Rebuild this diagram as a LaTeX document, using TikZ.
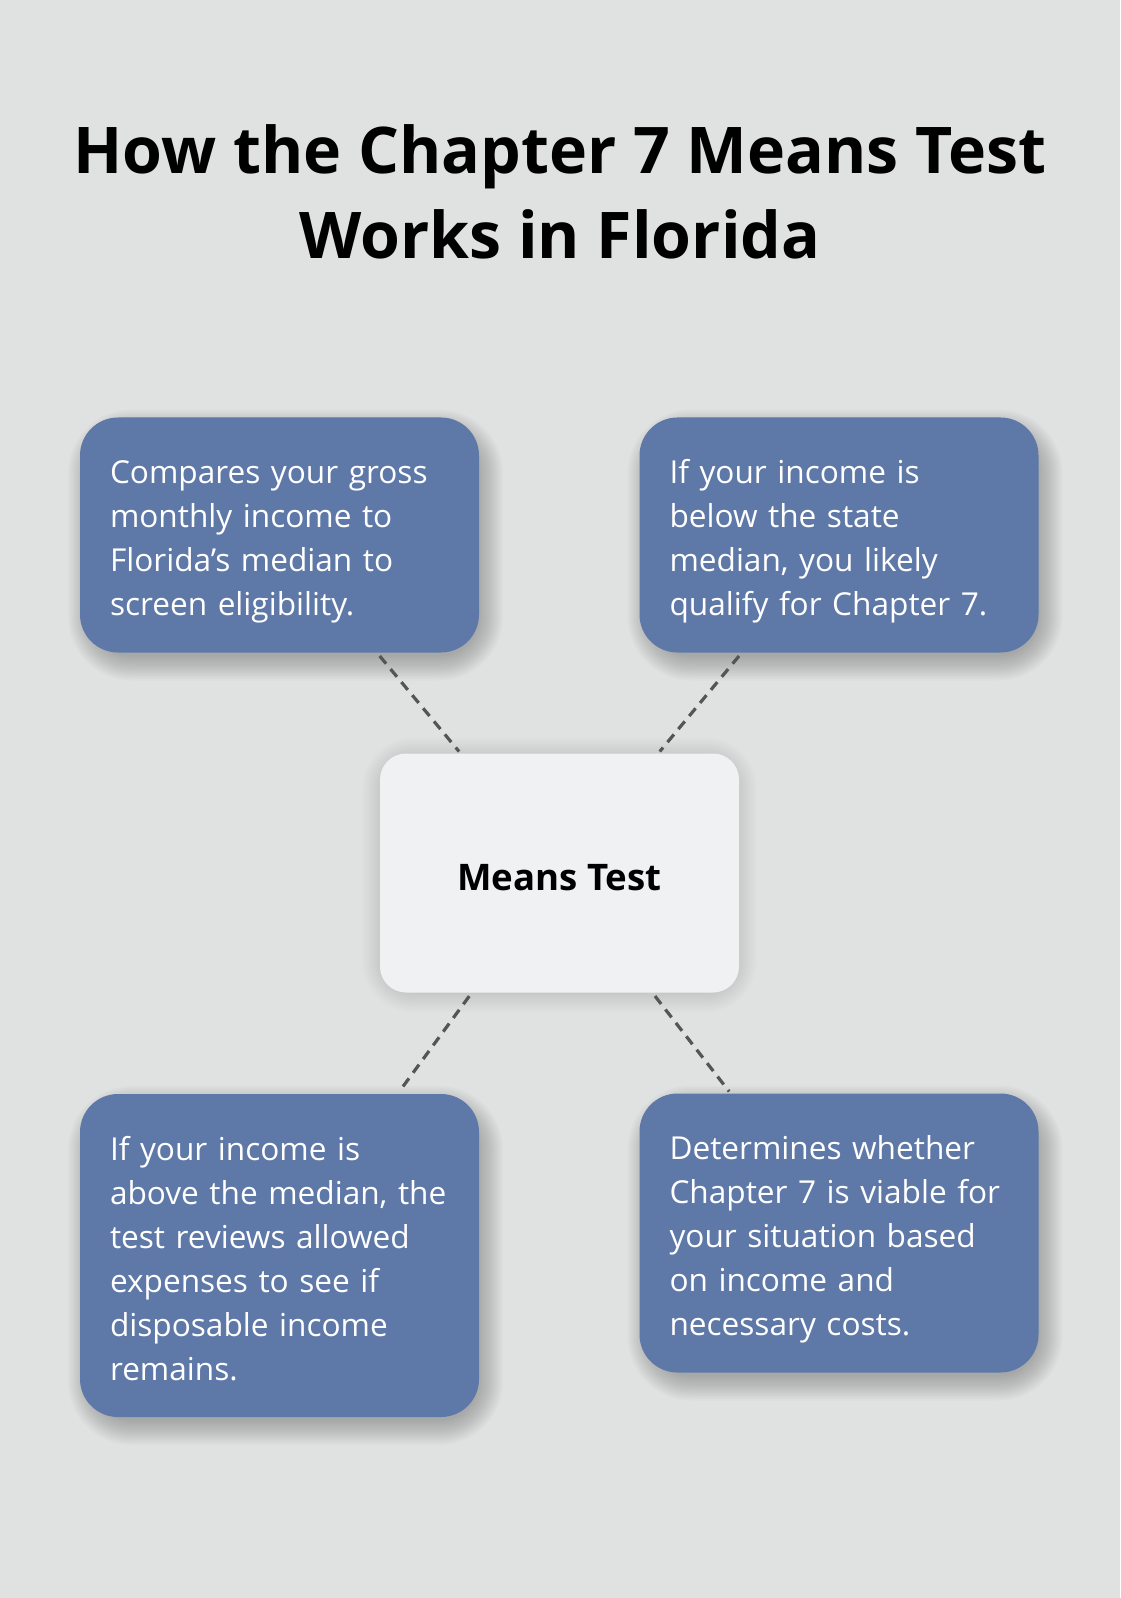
\documentclass[tikz,border=0pt]{standalone}
\usepackage{fontspec}
\setmainfont{Open Sans}
\usetikzlibrary{positioning,calc}
\definecolor{pagebg}{HTML}{E0E2E1}
\definecolor{cardblue}{HTML}{5E78A8}
\definecolor{corefill}{HTML}{F0F1F3}
\definecolor{linkgray}{HTML}{555555}
\tikzset{font=\fontsize{15.8}{22}\selectfont}
\pgfdeclarelayer{bg}
\pgfsetlayers{bg,main}

% card text with fixed top and bottom room
\newcommand{\cardbody}[1]{\rule{0pt}{19.5pt}#1\rule[-5pt]{0pt}{5pt}}
% soft shadow behind a node: #1 node, #2 corner radius (pt), #3 x shift, #4 y shift, #5 opacity
\newcommand{\softshadow}[5]{%
	\foreach \k in {1,...,16} {
		\pgfmathsetmacro\rad{#2+0.8*\k}
		\fill[black, fill opacity=#5, rounded corners=\rad pt]
			($(#1.south west)+(#3-\k*0.8pt+4pt, #4-\k*0.8pt+4pt)$) rectangle
			($(#1.north east)+(#3+\k*0.8pt-4pt, #4+\k*0.8pt-4pt)$);
	}}

\begin{document}
\begin{tikzpicture}[x=0.5pt, y=-0.5pt]
	\useasboundingbox (0,0) rectangle (1120,1598);
	\begin{scope}
		\tikzstyle{card}=[rectangle, rounded corners=19pt, fill=cardblue, text=white, align=left,
			inner sep=0pt, minimum width=199.5pt, text width=169.5pt]
		\tikzstyle{core}=[rectangle, rounded corners=13pt, fill=corefill, align=center,
			inner sep=0pt, minimum width=179.5pt, minimum height=119.5pt,
			text height=17pt, text depth=0pt,
			font=\fontsize{18.3}{22}\selectfont\bfseries]
		\tikzstyle{link}=[draw=linkgray, line width=1.6pt, dash pattern=on 5pt off 3.5pt,
			shorten <=2pt, shorten >=1pt]

		\node[align=center, inner sep=0pt, anchor=north, font=\fontsize{32.2}{42.5}\selectfont\bfseries]
			(title) at (560, 124) {How the Chapter 7 Means Test\\Works in Florida};

		\node[card, minimum height=117.5pt] (gross) at (279.5, 535)
			{\cardbody{Compares your gross\\monthly income to\\Florida’s median to\\screen eligibility.}};
		\node[card, minimum height=117.5pt] (below) at (839, 535)
			{\cardbody{If your income is\\below the state\\median, you likely\\qualify for Chapter 7.}};
		\node[core] (means) at (559.5, 873) {Means Test};
		\node[card, minimum height=161.5pt] (above) at (279.5, 1255.5)
			{\cardbody{If your income is\\above~the~median,~the\\test reviews allowed\\expenses to see if\\disposable income\\remains.}};
		\node[card, minimum height=139.5pt] (viable) at (839, 1233)
			{\cardbody{Determines whether\\Chapter 7 is viable for\\your situation based\\on income and\\necessary costs.}};

		\draw[link] (gross) -- (means);
		\draw[link] (below) -- (means);
		\draw[link] (means) -- (above);
		\draw[link] (means) -- (viable);
	\end{scope}

	\begin{pgfonlayer}{bg}
		\fill[pagebg] (0,0) rectangle (1120,1598);
		\softshadow{gross}{19}{3pt}{-5pt}{0.016}
		\softshadow{below}{19}{3pt}{-5pt}{0.016}
		\softshadow{above}{19}{3pt}{-5pt}{0.016}
		\softshadow{viable}{19}{3pt}{-5pt}{0.016}
		\softshadow{means}{13}{0pt}{-1pt}{0.009}
	\end{pgfonlayer}
\end{tikzpicture}
\end{document}
